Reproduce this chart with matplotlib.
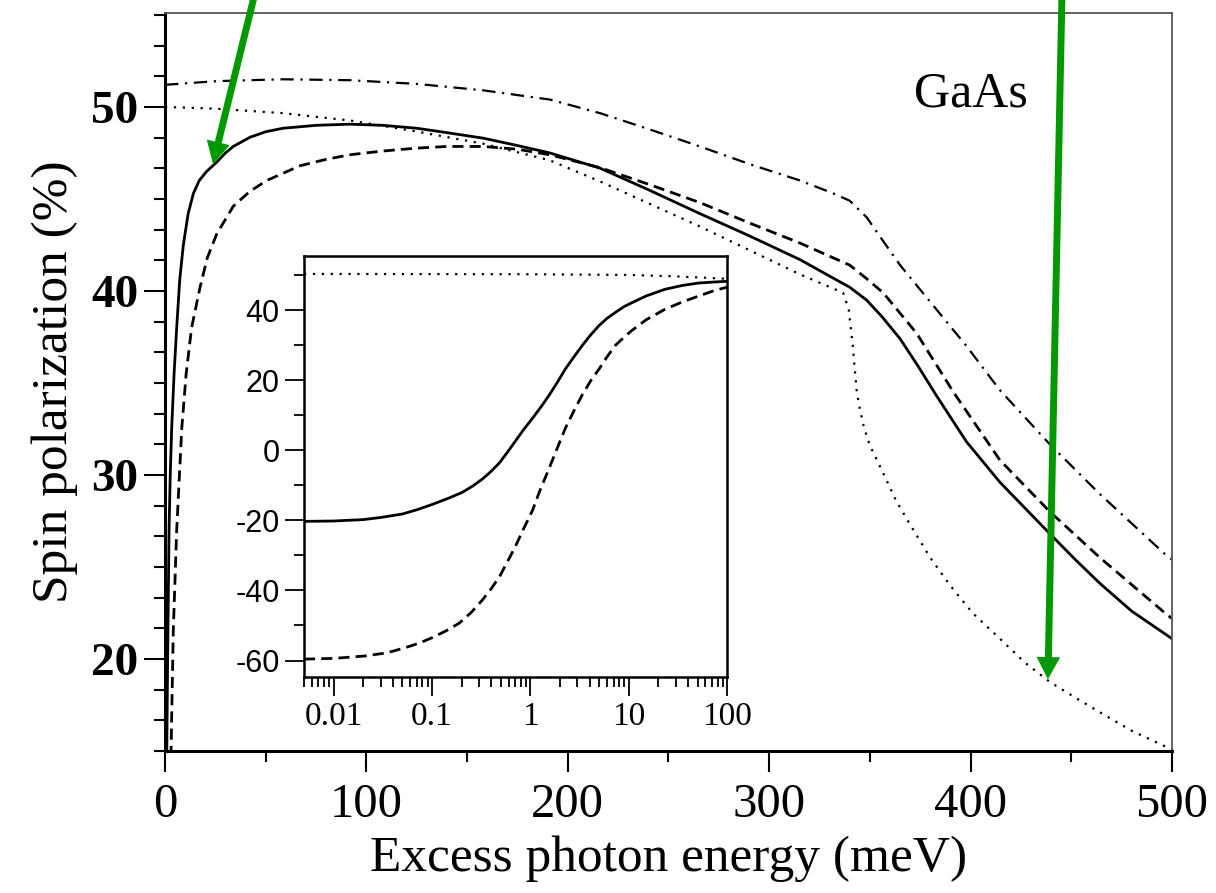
import numpy as np
import matplotlib.pyplot as plt
from matplotlib.ticker import MultipleLocator, LogLocator, FixedLocator, FixedFormatter, NullFormatter

plt.rcParams['axes.unicode_minus'] = False

# curve principali (meV, %)
solid_x = [0.8, 1.3, 2.0, 2.6, 3.3, 4.5, 5.8, 7.3, 9.1, 11.5, 14.1, 17, 20.7, 25.7, 30, 33.9, 42.2, 50,
           58.6, 75.3, 91.9, 108, 125, 140, 158, 175, 191, 216, 240, 265.6, 290, 315.3, 335, 340, 348.4,
           356, 365, 374, 383.1, 398, 414.6, 427, 439.4, 452, 464.3, 480, 497.4, 500]
solid_y = [14, 20, 27, 30, 32.5, 35.5, 38, 40.6, 42.5, 44.2, 45.3, 46.0, 46.5, 47.0, 47.5, 47.85, 48.35, 48.65,
           48.84, 49.0, 49.06, 49.0, 48.84, 48.6, 48.3, 47.9, 47.5, 46.67, 45.5, 44.2, 43.0, 41.7, 40.5, 40.2, 39.5,
           38.6, 37.4, 35.9, 34.3, 31.8, 29.6, 28.2, 26.8, 25.4, 24.1, 22.6, 21.3, 21.1]

dash_x = [2.5, 3.0, 4.1, 5.8, 8.3, 10.5, 13.2, 17.4, 21, 25.7, 33.9, 42, 50.5, 67, 80, 91.9, 108, 125, 140,
          158, 175, 191, 216, 240, 265.6, 290, 315.3, 340, 348, 356.6, 373.2, 391.5, 414.6, 439.4, 464.3,
          496.5, 500]
dash_y = [10, 15, 21.5, 27, 32.5, 35.5, 38.0, 40.2, 41.8, 43.1, 44.6, 45.4, 46.0, 46.8, 47.15, 47.4, 47.6, 47.76,
          47.85, 47.85, 47.7, 47.4, 46.7, 45.8, 44.8, 43.7, 42.6, 41.4, 40.7, 39.9, 37.7, 34.5, 30.8, 28.0, 25.5,
          22.5, 22.2]

dot_x = [0, 25.7, 58.6, 91.9, 125, 158, 191, 216, 265.6, 315.3, 336.7, 339.5, 341.5, 343.5, 345, 347, 350,
         356.6, 363, 370, 380, 389.8, 401, 414.6, 427, 439.4, 452, 464.3, 480, 495.6, 500]
dot_y = [50.0, 49.9, 49.66, 49.26, 48.66, 48.0, 47.1, 45.95, 43.5, 40.9, 39.9, 39.0, 37.0, 34.5, 33.6, 32.6, 31.6,
         30.1, 28.6, 27.3, 25.5, 24.0, 22.5, 21.1, 19.8, 18.75, 17.9, 17.1, 16.1, 15.3, 15.1]

dd_x = [0, 25.7, 58.6, 91.9, 125, 158, 191, 216, 240, 265.6, 290, 315.3, 331.8, 340, 348.4, 356, 365, 381.5,
        398, 414.6, 439.4, 464.3, 496.5, 500]
dd_y = [51.2, 51.4, 51.5, 51.45, 51.25, 50.9, 50.4, 49.66, 48.8, 47.85, 46.9, 46.0, 45.3, 44.9, 44.0, 42.8, 41.4,
        39.2, 37.0, 34.6, 31.66, 28.95, 25.7, 25.4]

# inserto (scala log)
in_solid_x = [0.005, 0.01, 0.02, 0.03, 0.05, 0.07, 0.1, 0.15, 0.204, 0.26, 0.326, 0.4, 0.485, 0.58, 0.70,
              0.85, 1.05, 1.3, 1.56, 1.9, 2.27, 2.8, 3.37, 4.1, 5.0, 6, 7.3, 9, 10.8, 15, 23.3, 35, 51.5,
              75, 100]
in_solid_y = [-20.3, -20.2, -19.8, -19.2, -18.2, -17.0, -15.5, -13.6, -12, -10.2, -8.2, -6.0, -3.6, -0.7, 2.5,
              5.8, 9.1, 12.6, 15.8, 19.6, 23.2, 26.8, 29.9, 32.9, 35.6, 37.6, 39.3, 41.0, 42.1, 44.0, 45.9, 47.0,
              47.7, 48.0, 48.2]

in_dash_x = [0.005, 0.01, 0.021, 0.035, 0.054, 0.075, 0.1, 0.14, 0.19, 0.25, 0.326, 0.4, 0.485, 0.58, 0.70,
             0.85, 1.05, 1.25, 1.56, 1.9, 2.27, 2.8, 3.37, 4.1, 5.0, 6, 7.3, 9, 10.8, 15, 23.3, 35, 51.5,
             75, 100]
in_dash_y = [-59.6, -59.4, -58.7, -57.8, -56.3, -55.0, -53.5, -51.5, -49.3, -46.3, -42.7, -39.5, -36.1, -32.0,
             -27.6, -22.5, -17.2, -11.5, -5, 1.0, 6.3, 11.5, 15.8, 19.8, 23.2, 26.6, 29.9, 32.3, 34.2, 37.2,
             40.2, 42.3, 44, 45.6, 46.5]

in_dot_x = [0.005, 1, 10, 30, 60, 100]
in_dot_y = [50.3, 50.2, 50.0, 49.6, 49.2, 48.9]

in_ticks = [0.01, 0.1, 1, 10, 100]
in_labels = ['0.01', '0.1', '1', '10', '100']

serif = 'Liberation Serif'
verde = '#009a00'

fig = plt.figure(figsize=(12.16, 8.93), dpi=100)
ax = fig.add_axes([0.1357, 0.159, 0.8281, 0.8264])

ax.plot(solid_x, solid_y, color='black', lw=2.0)
ax.plot(dash_x, dash_y, color='black', lw=2.0, linestyle=(0, (4, 2.2)))
ax.plot(dot_x, dot_y, color='black', lw=1.6, linestyle=(0, (1, 3)))
ax.plot(dd_x, dd_y, color='black', lw=1.6, linestyle=(0, (6, 3, 1, 3)))

ax.set_xlim(0, 500)
ax.set_ylim(15, 55.1)
ax.xaxis.set_major_locator(MultipleLocator(100))
ax.xaxis.set_minor_locator(MultipleLocator(50))
ax.yaxis.set_major_locator(MultipleLocator(10))
ax.yaxis.set_minor_locator(MultipleLocator(10 / 6))
ax.yaxis.set_major_formatter(plt.FuncFormatter(lambda v, p: '%d' % v if v >= 20 else ''))

ax.tick_params(which='major', direction='out', length=15, width=1.5, top=False, right=False)
ax.tick_params(which='minor', direction='out', length=8, width=1.5, top=False, right=False)
for lab in ax.get_xticklabels():
    lab.set_fontfamily(serif)
    lab.set_fontsize(35)
for lab in ax.get_yticklabels():
    lab.set_fontfamily(serif)
    lab.set_fontsize(34)
    lab.set_fontweight('bold')
ax.tick_params(axis='x', pad=8)
ax.tick_params(axis='y', pad=4)

for s in ['left', 'bottom']:
    ax.spines[s].set_linewidth(2.2)
for s in ['top', 'right']:
    ax.spines[s].set_linewidth(1.3)
    ax.spines[s].set_color('#555555')

ax.set_xlabel('Excess photon energy (meV)', fontfamily=serif, fontsize=37, labelpad=6)
ax.set_ylabel('Spin polarization (%)', fontfamily=serif, fontsize=37, labelpad=10)

ax.text(372, 50, 'GaAs', fontfamily=serif, fontsize=36, ha='left', va='baseline')

# inserto
ins = fig.add_axes([0.25, 0.2419, 0.348, 0.4714])
ins.plot(in_solid_x, in_solid_y, color='black', lw=2.0)
ins.plot(in_dash_x, in_dash_y, color='black', lw=2.0, linestyle=(0, (4, 2.2)))
ins.plot(in_dot_x, in_dot_y, color='black', lw=1.6, linestyle=(0, (1, 3)))
ins.set_xscale('log')
ins.set_xlim(0.005, 100)
ins.set_ylim(-64.7, 55.4)
ins.xaxis.set_major_locator(FixedLocator(in_ticks))
ins.xaxis.set_major_formatter(FixedFormatter(in_labels))
ins.xaxis.set_minor_locator(LogLocator(base=10, subs=np.arange(2, 10), numticks=20))
ins.xaxis.set_minor_formatter(NullFormatter())
ins.yaxis.set_major_locator(MultipleLocator(20))
ins.yaxis.set_minor_locator(MultipleLocator(10))
ins.tick_params(which='major', direction='out', length=14, width=1.3)
ins.tick_params(which='minor', direction='out', length=7, width=1.3)
for lab in ins.get_xticklabels():
    lab.set_fontfamily(serif)
    lab.set_fontsize(24)
for lab in ins.get_yticklabels():
    lab.set_fontfamily('Liberation Sans')
    lab.set_fontsize(22)
for s in ins.spines.values():
    s.set_linewidth(1.8)

# frecce verdi
ax.annotate('', xy=(23.8, 46.9), xycoords='data', xytext=(255, 900), textcoords='figure pixels',
            arrowprops=dict(width=5, headwidth=17, headlength=16, shrink=0, facecolor=verde, edgecolor='none'),
            annotation_clip=False)
ax.annotate('', xy=(438.4, 18.9), xycoords='data', xytext=(1062, 900), textcoords='figure pixels',
            arrowprops=dict(width=5, headwidth=17, headlength=16, shrink=0, facecolor=verde, edgecolor='none'),
            annotation_clip=False)

fig.savefig('out.png', dpi=100)
